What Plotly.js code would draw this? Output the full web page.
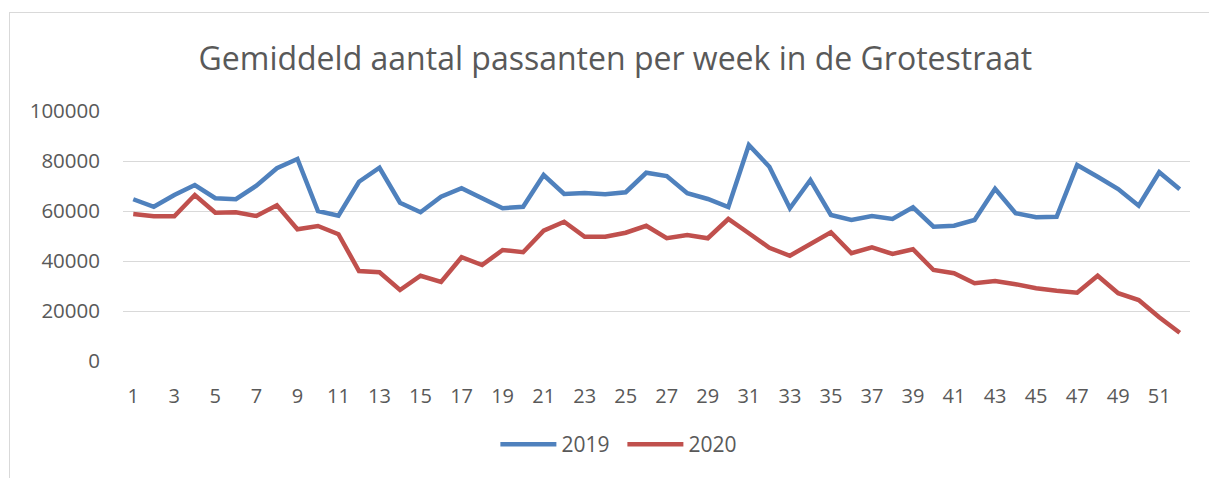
<!DOCTYPE html>
<html>
<head>
<meta charset="utf-8">
<script src="https://cdn.plot.ly/plotly-3.0.1.min.js"></script>
<style>
  html, body { margin: 0; padding: 0; background: #fff; overflow: hidden; }
  #frame { position: absolute; left: 9px; top: 12px; width: 1300px; height: 600px;
           border: 1px solid #d9d9d9; pointer-events: none; z-index: 2; }
  #chart { position: absolute; left: 0; top: 0; width: 1209px; height: 478px; }
</style>
</head>
<body>
<div id="chart"></div>
<div id="frame"></div>
<script>
const weeks = Array.from({length: 52}, (_, i) => i + 1);
const tickVals = [1,3,5,7,9,11,13,15,17,19,21,23,25,27,29,31,33,35,37,39,41,43,45,47,49,51];

const v2019 = [64700, 61700, 66400, 70400, 65100, 64700, 70100, 77100, 80800, 60000,
               58100, 71700, 77300, 63300, 59500, 65700, 69100, 65100, 61100, 61700,
               74400, 66800, 67200, 66700, 67500, 75300, 74000, 67100, 64800, 61600,
               86400, 77700, 61100, 72400, 58400, 56400, 58000, 56800, 61500, 53700,
               54100, 56400, 68900, 59100, 57500, 57700, 78400, 73700, 68800, 62100,
               75500, 68700];

const v2020 = [58800, 57900, 57900, 66400, 59300, 59500, 58000, 62300, 52700, 54000,
               50700, 36000, 35500, 28400, 34100, 31600, 41500, 38400, 44400, 43500,
               52100, 55700, 49700, 49700, 51300, 54100, 49100, 50400, 49100, 56800,
               51100, 45300, 42100, 46800, 51500, 43100, 45500, 42800, 44700, 36400,
               35100, 31100, 32000, 30700, 29100, 28100, 27300, 34100, 27100, 24400,
               17500, 11300];

const FONT = '"Open Sans", "Liberation Sans", sans-serif';
const GREY = '#595959';

const traces = [
  { x: weeks, y: v2019, name: '2019', type: 'scatter', mode: 'lines',
    line: { color: '#4F81BD', width: 4.5, shape: 'linear' } },
  { x: weeks, y: v2020, name: '2020', type: 'scatter', mode: 'lines',
    line: { color: '#C0504D', width: 4.5, shape: 'linear' } }
];

const layout = {
  width: 1209, height: 478,
  margin: { l: 123, r: 19, t: 111, b: 117, pad: 0 },
  paper_bgcolor: 'rgba(0,0,0,0)',
  plot_bgcolor: 'rgba(0,0,0,0)',
  font: { family: FONT, color: GREY, size: 20 },
  title: { text: 'Gemiddeld aantal passanten per week in de Grotestraat',
           font: { family: FONT, size: 32, color: GREY },
           x: 0.509, xanchor: 'center', y: 0.878, yanchor: 'middle', yref: 'container' },
  xaxis: {
    range: [0.5, 52.5], tickmode: 'array', tickvals: tickVals, ticktext: tickVals.map(String),
    showgrid: false, zeroline: false, showline: false, ticks: '',
    ticklabelstandoff: 21, tickfont: { family: FONT, size: 20, color: GREY }
  },
  yaxis: {
    range: [0, 100000], tickmode: 'array', tickvals: [0, 20000, 40000, 60000, 80000, 100000],
    ticktext: ['0', '20000', '40000', '60000', '80000', '100000'],
    showgrid: true, gridcolor: '#d9d9d9', gridwidth: 1, zeroline: false, showline: false, ticks: '',
    ticklabelstandoff: 22, tickfont: { family: FONT, size: 20.5, color: GREY }
  },
  showlegend: true,
  legend: { orientation: 'h', x: 0.349, xanchor: 'left', y: 0.07, yref: 'container', yanchor: 'middle',
            font: { family: FONT, size: 21, color: GREY }, itemwidth: 56, entrywidth: 56,
            entrywidthmode: 'pixels', bgcolor: 'rgba(0,0,0,0)' }
};

Plotly.newPlot('chart', traces, layout, { displayModeBar: false, staticPlot: true });
</script>
</body>
</html>
